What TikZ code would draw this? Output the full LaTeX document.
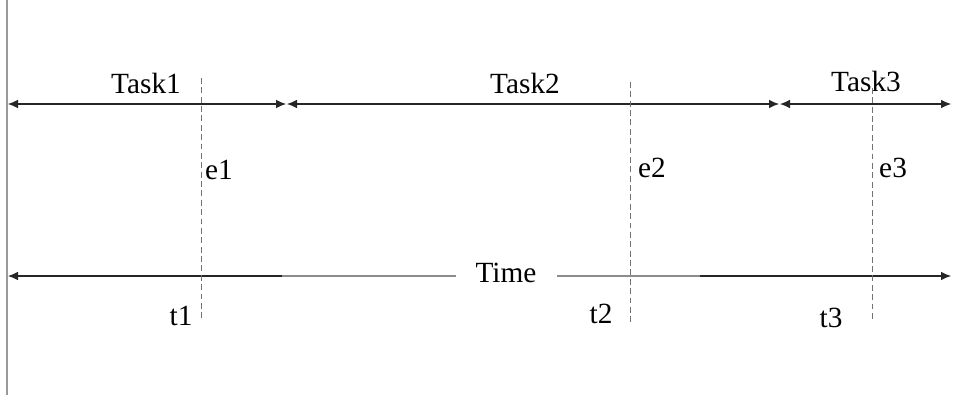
\documentclass[tikz,border=0pt]{standalone}
\usepackage{fontspec}
\setmainfont{Liberation Serif}
\usetikzlibrary{arrows.meta,positioning}

\begin{document}
\begin{tikzpicture}[x=0.03cm, y=-0.03cm, every node/.style={font=\fontsize{25}{30}\selectfont, inner sep=0pt}, arr/.style={-{Latex[length=3mm,width=2.6mm]}, line width=0.9pt, black!85}, twoarr/.style={{Latex[length=3mm,width=2.6mm]}-{Latex[length=3mm,width=2.6mm]}, line width=0.9pt, black!85}, mark line/.style={dashed, dash pattern=on 5pt off 3pt, black!55, line width=0.6pt}, faint/.style={black!45, line width=0.9pt}]
\useasboundingbox (0,0) rectangle (954,414);
% axis on the left
\coordinate (axtop) at (7,0);
\coordinate (axbot) at (7,395);
\draw[black!40, line width=1.2pt] (axtop) -- (axbot);
% task spans
\coordinate (a0) at (8,104);
\coordinate (a1) at (286,104);
\coordinate (a2) at (287,104);
\coordinate (a3) at (779,104);
\coordinate (a4) at (780,104);
\coordinate (a5) at (951,104);
\draw[twoarr] (a0) -- (a1);
\draw[twoarr] (a2) -- (a3);
\draw[twoarr] (a4) -- (a5);
\node (task1) at (146,83) {Task1};
\node (task2) at (525,83) {Task2};
\node (task3) at (866,81) {Task3};
% time line
\node (time) at (506,273) {Time};
\coordinate (tl) at (8,276);
\coordinate (tla) at (282,276);
\coordinate (tlb) at (456,276);
\coordinate (tlc) at (557,276);
\coordinate (tld) at (700,276);
\coordinate (tr) at (951,276);
\draw[arr] (tla) -- (tl);
\draw[faint] (tla) -- (tlb);
\draw[faint] (tlc) -- (tld);
\draw[arr] (tld) -- (tr);
% events
\coordinate (d1t) at (201,78);
\coordinate (d1b) at (201,318);
\coordinate (d2t) at (630,82);
\coordinate (d2b) at (630,322);
\coordinate (d3t) at (872,88);
\coordinate (d3b) at (872,320);
\draw[mark line] (d1t) -- (d1b);
\draw[mark line] (d2t) -- (d2b);
\draw[mark line] (d3t) -- (d3b);
\node[anchor=west] (e1) at (205,170) {e1};
\node[anchor=west] (e2) at (638,168) {e2};
\node[anchor=west] (e3) at (879,168) {e3};
\node (t1) at (181,316) {t1};
\node (t2) at (601,314) {t2};
\node (t3) at (831,318) {t3};
\end{tikzpicture}
\end{document}
